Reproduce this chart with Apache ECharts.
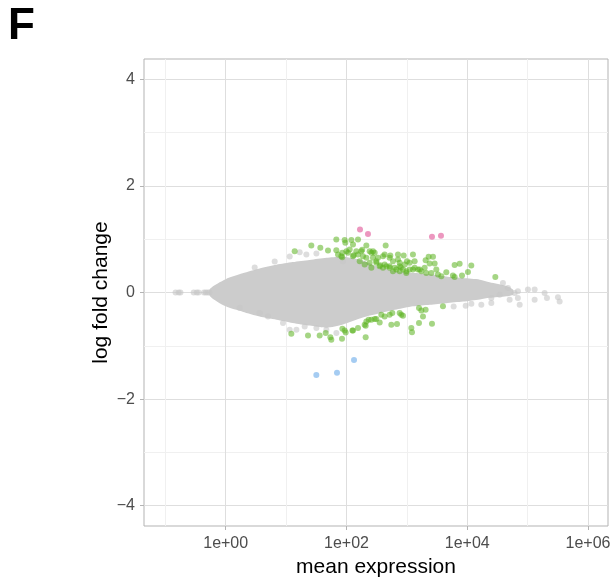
<!DOCTYPE html>
<html>
<head>
<meta charset="utf-8">
<script src="https://cdn.jsdelivr.net/npm/echarts@6/dist/echarts.min.js"></script>
<style>
html,body{margin:0;padding:0;background:#fff;}
#chart{width:614px;height:581px;}
</style>
</head>
<body>
<div id="chart"></div>
<script>
// ---- axis settings (x is log10 of mean expression) ----
const xMajorTicks = [0, 2, 4, 6];
const xMinorTicks = [-1, 1, 3, 5];
const yMajorTicks = [-4, -2, 0, 2, 4];
const yMinorTicks = [-3, -1, 1, 3];

// ---- dense grey cloud of non-significant genes: envelope (log10 mean, lfc) ----
const cloudLog10Mean = [-0.26, 0.00, 0.28, 0.56, 0.84, 1.11, 1.39, 1.67, 1.94, 2.27, 2.55, 2.83, 3.10, 3.38, 3.65, 3.93, 4.21, 4.37, 4.65, 4.76];
const cloudUpperLfc = [0.07, 0.25, 0.36, 0.45, 0.52, 0.57, 0.61, 0.65, 0.67, 0.60, 0.47, 0.40, 0.37, 0.34, 0.30, 0.27, 0.24, 0.19, 0.12, 0.05];
const cloudLowerLfc = [-0.07, -0.26, -0.36, -0.45, -0.51, -0.57, -0.62, -0.66, -0.60, -0.47, -0.39, -0.32, -0.26, -0.23, -0.20, -0.17, -0.13, -0.10, -0.07, -0.04];

// ---- individual grey (non-significant) points outside the dense core ----
const greyLog10Mean = [-0.83, -0.78, -0.75, -0.53, -0.48, -0.45, -0.36, -0.33, -0.30, -0.27,
  4.839, 4.839, 4.868, 5.005, 5.116, 5.116, 5.281, 5.320, 5.502, 5.530, 4.591, 4.674, 4.536, 4.399, 4.233, 4.068, 3.775, 4.399, 4.785, 3.974, 4.702,
  1.225, 1.336, 1.502, 1.942, 1.06, 0.811, 0.480,
  0.563, 0.700, 0.949, 1.060, 1.171, 1.308, 1.502, 1.667, 1.833, 0.232];
const greyLfc = [0, 0, 0, 0, 0, 0, 0, 0, 0, 0,
  0.022, -0.103, -0.229, 0.054, 0.054, -0.135, -0.008, -0.103, -0.091, -0.167, 0.180, 0.086, -0.040, -0.103, -0.229, -0.210, -0.261, -0.197, -0.008, -0.248, -0.135,
  0.756, 0.713, 0.732, 0.587, 0.675, 0.581, 0.468,
  -0.385, -0.449, -0.573, -0.700, -0.700, -0.637, -0.668, -0.700, -0.762, -0.285];

// ---- significant genes (green) ----
const greenLog10Mean = [1.418, 1.567, 1.694, 1.832, 1.832, 1.970, 1.981, 2.081, 2.108, 2.191,
  2.053, 2.025, 1.860, 1.915, 2.163, 2.246, 2.329, 2.384, 2.412, 2.467,
  2.191, 2.108, 2.274, 2.329, 2.439, 2.522, 2.494, 2.550, 2.649, 2.632,
  2.726, 2.853, 2.947, 3.101, 3.361, 3.433, 3.311, 3.377, 3.460, 3.129,
  3.002, 2.881, 2.770, 2.660, 2.605, 2.715, 2.826, 2.881, 2.936, 3.046,
  2.991, 3.101, 3.184, 3.240, 3.322, 3.405, 3.488, 3.515, 3.571, 3.653,
  3.791, 3.874, 4.067, 4.012, 3.913, 3.791, 4.465, 1.142,
  2.412, 2.560, 2.632, 2.715, 2.798, 2.900, 2.964, 3.046, 3.129, 3.212,
  3.295, 2.881, 2.991, 2.770, 2.219, 2.301, 2.384, 2.494, 2.120, 1.998,
  2.260, 2.439, 2.605, 2.715, 2.853, 1.930, 1.931, 3.763,
  1.363, 1.556, 1.656, 1.733, 1.749, 1.926, 1.932, 1.987, 2.108, 2.191,
  2.318, 2.318, 2.329, 2.368, 2.412, 2.494, 2.550, 2.577, 2.715, 2.743,
  2.837, 2.908, 2.936, 3.074, 3.085, 3.201, 3.240, 3.311, 3.267, 3.201,
  3.416, 3.598, 2.881, 2.759, 2.632, 1.087, 1.970, 2.098, 2.301, 2.467];
const greenLfc = [0.882, 0.838, 0.788, 0.995, 0.794, 0.983, 0.933, 0.983, 0.901, 0.995,
  0.807, 0.744, 0.713, 0.681, 0.776, 0.776, 0.882, 0.776, 0.744, 0.744,
  0.713, 0.681, 0.681, 0.650, 0.650, 0.650, 0.587, 0.493, 0.882, 0.713,
  0.694, 0.713, 0.694, 0.713, 0.669, 0.669, 0.606, 0.543, 0.543, 0.587,
  0.587, 0.556, 0.587, 0.493, 0.462, 0.462, 0.430, 0.493, 0.430, 0.430,
  0.368, 0.430, 0.430, 0.399, 0.368, 0.368, 0.430, 0.336, 0.305, 0.380,
  0.518, 0.537, 0.506, 0.386, 0.317, 0.292, 0.292, 0.776,
  0.462, 0.510, 0.524, 0.493, 0.462, 0.470, 0.524, 0.556, 0.462, 0.430,
  0.462, 0.399, 0.399, 0.399, 0.587, 0.524, 0.556, 0.556, 0.700, 0.776,
  0.800, 0.776, 0.681, 0.650, 0.619, 0.660, 0.744, 0.317,
  -0.806, -0.806, -0.762, -0.838, -0.888, -0.869, -0.681, -0.750, -0.712, -0.668,
  -0.838, -0.624, -0.543, -0.511, -0.511, -0.499, -0.562, -0.417, -0.417, -0.605,
  -0.593, -0.417, -0.436, -0.668, -0.744, -0.292, -0.336, -0.323, -0.449, -0.574,
  -0.587, -0.260, -0.386, -0.386, -0.449, -0.775, -0.712, -0.712, -0.605, -0.499];

// ---- pink (large positive change) ----
const pinkLog10Mean = [2.224, 2.356, 3.416, 3.565];
const pinkLfc = [1.184, 1.096, 1.046, 1.064];

// ---- blue (large negative change) ----
const blueLog10Mean = [1.501, 1.843, 2.125];
const blueLfc = [-1.547, -1.503, -1.265];

const zip = (xs, ys) => xs.map((x, i) => [x, ys[i]]);

const FONT = 'Liberation Sans, Arial, Helvetica, sans-serif';
const X_MIN = -1.353, X_MAX = 6.331;
const Y_MIN = -4.38, Y_MAX = 4.38;

const chart = echarts.init(document.getElementById('chart'), null, {renderer: 'canvas'});

const xLabelFmt = v => '1e' + (v < 0 ? '-' : '+') + String(Math.abs(v)).padStart(2, '0');
const yLabelFmt = v => (v < 0 ? '\u2212' + Math.abs(v) : String(v));

const option = {
  backgroundColor: '#ffffff',
  animation: false,
  title: {
    text: 'F', left: 3, top: 0,
    textStyle: {fontFamily: FONT, fontSize: 44, fontWeight: 'bold', color: '#000'}
  },
  grid: {
    left: 144, right: 6, top: 59, bottom: 55,
    show: true, borderColor: '#b3b3b3', borderWidth: 1, backgroundColor: 'transparent',
    containLabel: false, outerBoundsMode: 'none'
  },
  xAxis: [
    {
      type: 'value', min: X_MIN, max: X_MAX,
      name: 'mean expression', nameLocation: 'middle', nameGap: 31, nameMoveOverlap: false,
      nameTextStyle: {fontFamily: FONT, fontSize: 21, color: '#000'},
      axisLine: {show: false, onZero: false},
      axisTick: {show: true, length: 4, customValues: xMajorTicks, lineStyle: {color: '#b3b3b3'}},
      axisLabel: {customValues: xMajorTicks, formatter: xLabelFmt, margin: 10,
        fontFamily: FONT, fontSize: 16, color: '#4d4d4d'},
      splitLine: {show: true, lineStyle: {color: '#dedede', width: 1}}
    },
    {
      type: 'value', min: X_MIN, max: X_MAX, position: 'bottom',
      axisLine: {show: false, onZero: false},
      axisTick: {show: false, customValues: xMinorTicks},
      axisLabel: {show: false, customValues: xMinorTicks},
      splitLine: {show: true, lineStyle: {color: '#f0f0f0', width: 1}}
    }
  ],
  yAxis: [
    {
      type: 'value', min: Y_MIN, max: Y_MAX,
      name: 'log fold change', nameLocation: 'middle', nameGap: 32, nameMoveOverlap: false,
      nameTextStyle: {fontFamily: FONT, fontSize: 21, color: '#000'},
      axisLine: {show: false, onZero: false},
      axisTick: {show: true, length: 4, customValues: yMajorTicks, lineStyle: {color: '#b3b3b3'}},
      axisLabel: {customValues: yMajorTicks, formatter: yLabelFmt, margin: 9,
        fontFamily: FONT, fontSize: 16, color: '#4d4d4d'},
      splitLine: {show: true, lineStyle: {color: '#dedede', width: 1}}
    },
    {
      type: 'value', min: Y_MIN, max: Y_MAX, position: 'left',
      axisLine: {show: false, onZero: false},
      axisTick: {show: false, customValues: yMinorTicks},
      axisLabel: {show: false, customValues: yMinorTicks},
      splitLine: {show: true, lineStyle: {color: '#f0f0f0', width: 1}}
    }
  ],
  series: [
    {
      type: 'custom', name: 'cloud', silent: true, z: 2,
      xAxisIndex: 0, yAxisIndex: 0,
      data: [[cloudLog10Mean[0], 0]],
      renderItem: (params, api) => {
        const pts = [];
        for (let i = 0; i < cloudLog10Mean.length; i++) pts.push(api.coord([cloudLog10Mean[i], cloudUpperLfc[i]]));
        for (let i = cloudLog10Mean.length - 1; i >= 0; i--) pts.push(api.coord([cloudLog10Mean[i], cloudLowerLfc[i]]));
        return {type: 'polygon', shape: {points: pts, smooth: 0.25}, style: {fill: '#cccccc', stroke: null}};
      }
    },
    {
      type: 'scatter', name: 'ns', silent: true, z: 3,
      data: zip(greyLog10Mean, greyLfc), symbolSize: 6,
      itemStyle: {color: '#c6c6c6', opacity: 0.6}
    },
    {
      type: 'scatter', name: 'sig', silent: true, z: 4,
      data: zip(greenLog10Mean, greenLfc), symbolSize: 6,
      itemStyle: {color: '#5bb31f', opacity: 0.55}
    },
    {
      type: 'scatter', name: 'up', silent: true, z: 5,
      data: zip(pinkLog10Mean, pinkLfc), symbolSize: 6,
      itemStyle: {color: '#d9307f', opacity: 0.5}
    },
    {
      type: 'scatter', name: 'down', silent: true, z: 5,
      data: zip(blueLog10Mean, blueLfc), symbolSize: 6,
      itemStyle: {color: '#4c9ae6', opacity: 0.5}
    }
  ]
};
chart.setOption(option);
</script>
</body>
</html>
